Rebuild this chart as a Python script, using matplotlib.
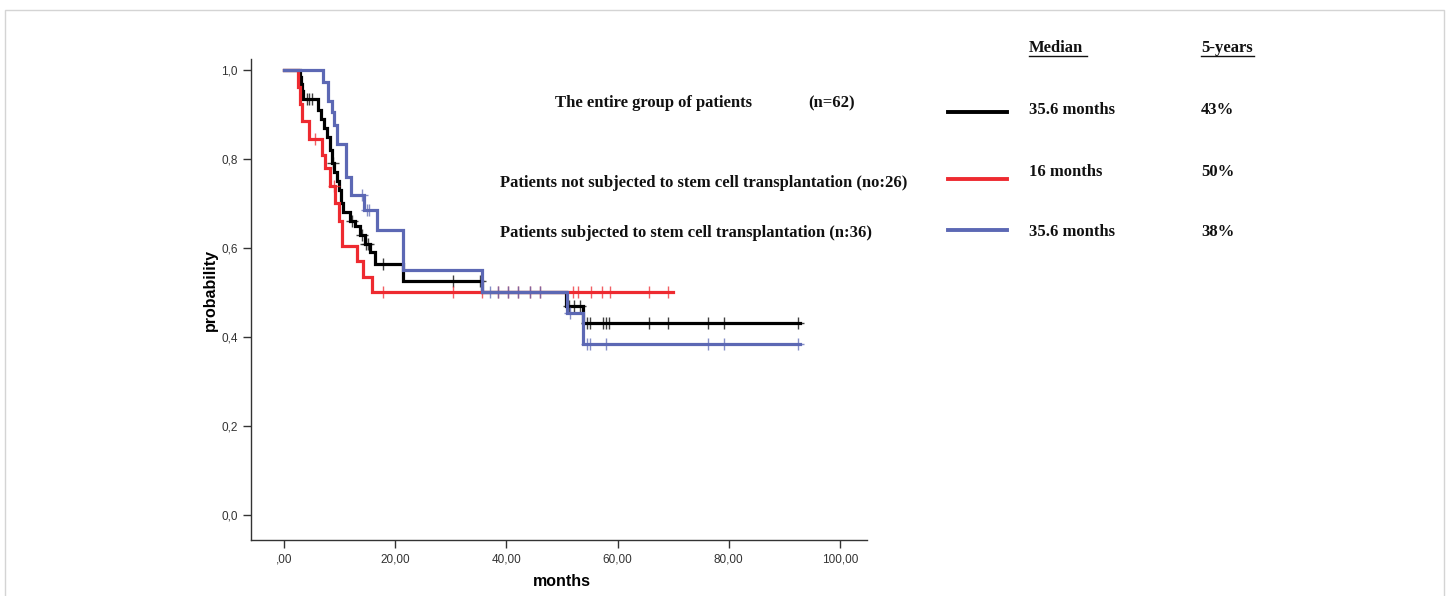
import numpy as np
import matplotlib
matplotlib.use("Agg")
import matplotlib.pyplot as plt
from matplotlib.lines import Line2D
from matplotlib.patches import Rectangle

# ---------------- data ----------------
# Entire group (n=62) - black
all_times = [0, 2.9, 3.1, 3.2, 3.4, 6.1, 6.7, 7.2, 7.7, 8.3, 8.6, 9.0, 9.5, 9.9, 10.3, 10.6,
             11.9, 12.8, 13.7, 14.6, 15.5, 16.4, 21.4, 35.6, 50.7, 53.8]
all_surv = [1.0, 0.984, 0.968, 0.952, 0.935, 0.91, 0.89, 0.87, 0.85, 0.82, 0.79, 0.77, 0.75, 0.73,
            0.70, 0.68, 0.66, 0.65, 0.63, 0.61, 0.59, 0.565, 0.525, 0.50, 0.47, 0.432]
all_end = 92.8
all_cens = [4.1, 4.5, 5.0, 8.8, 12.2, 14.0, 14.7, 15.1, 17.8, 30.4, 35.3, 51.3, 52.2, 53.2,
            54.5, 55.1, 57.4, 58.0, 58.5, 65.6, 69.1, 76.3, 79.1, 92.4]

# Not subjected to SCT (n=26) - red
no_times = [0, 2.5, 2.9, 3.2, 4.5, 6.8, 7.4, 8.3, 9.2, 9.9, 10.4, 13.2, 14.2, 15.8]
no_surv = [1.0, 0.962, 0.923, 0.885, 0.846, 0.81, 0.78, 0.74, 0.70, 0.66, 0.605, 0.57, 0.535, 0.50]
no_end = 70.0
no_cens = [5.6, 8.9, 17.8, 30.4, 35.6, 38.5, 40.3, 42.1, 44.2, 46.0, 51.9, 52.9, 55.2, 57.2,
           58.6, 65.6, 69.1]

# Subjected to SCT (n=36) - blue
yes_times = [0, 7.0, 7.9, 8.6, 9.0, 9.5, 11.2, 12.0, 14.4, 16.7, 21.4, 35.6, 50.9, 53.8]
yes_surv = [1.0, 0.972, 0.93, 0.905, 0.876, 0.833, 0.76, 0.72, 0.685, 0.64, 0.55, 0.50, 0.455, 0.385]
yes_end = 92.8
yes_cens = [14.0, 14.9, 15.2, 37.0, 38.5, 40.3, 42.1, 44.2, 46.0, 51.4, 54.5, 55.1, 57.9,
            76.3, 79.1, 92.4]

x_ticks = [0, 20, 40, 60, 80, 100]
x_ticklabels = [",00", "20,00", "40,00", "60,00", "80,00", "100,00"]
y_ticks = [0.0, 0.2, 0.4, 0.6, 0.8, 1.0]
y_ticklabels = ["0,0", "0,2", "0,4", "0,6", "0,8", "1,0"]

group_labels = ["The entire group of patients", "Patients not subjected to stem cell transplantation (no:26)",
                "Patients subjected to stem cell transplantation (n:36)"]
medians = ["35.6 months", "16 months", "35.6 months"]
five_year = ["43%", "50%", "38%"]

BLACK = "#000000"
RED = "#ee2a30"
BLUE = "#5c68b4"

W, H = 1450, 596
fig = plt.figure(figsize=(W / 100, H / 100), dpi=100)


def fx(px):
    return px / W


def fy(py):
    return 1 - py / H


# light frame around the figure (bottom edge lies outside the image)
fig.patches.append(Rectangle((fx(5), fy(620)), fx(1439), 610 / H, transform=fig.transFigure,
                             fill=False, edgecolor="#d4d4d4", linewidth=1.0))

ax = fig.add_axes([fx(251), fy(540), fx(616), 481 / H])
ax.set_xlim(-5.94, 104.86)
ax.set_ylim(-0.0562, 1.0247)


def surv_at(times, surv, t):
    idx = np.searchsorted(times, t, side="right") - 1
    return np.array(surv)[idx]


def draw(times, surv, end, cens, color, z):
    tt = list(times) + [end]
    ss = list(surv) + [surv[-1]]
    ax.step(tt, ss, where="post", color=color, lw=2.3, zorder=z, solid_joinstyle="miter")
    c = np.array(cens)
    ax.plot(c, surv_at(times, surv, c), linestyle="none", marker="+", markersize=8,
            markeredgewidth=1.0, color=color, alpha=0.75, zorder=z)


draw(all_times, all_surv, all_end, all_cens, BLACK, 3)
draw(no_times, no_surv, no_end, no_cens, RED, 4)
draw(yes_times, yes_surv, yes_end, yes_cens, BLUE, 5)

for s in ["top", "right"]:
    ax.spines[s].set_visible(False)
for s in ["left", "bottom"]:
    ax.spines[s].set_color("#333333")
    ax.spines[s].set_linewidth(1.0)

ax.set_xticks(x_ticks)
ax.set_xticklabels(x_ticklabels)
ax.set_yticks(y_ticks)
ax.set_yticklabels(y_ticklabels)
ax.tick_params(direction="out", length=6, width=1, color="#333333", labelsize=8.5,
               labelcolor="#333333")
for lab in ax.get_xticklabels() + ax.get_yticklabels():
    lab.set_family("Liberation Sans")

fig.text(fx(562), fy(582), "months", ha="center", va="center", fontsize=11.5,
         fontweight="bold", family="Liberation Sans")
fig.text(fx(210), fy(290), "probability", ha="center", va="center", fontsize=11.5,
         fontweight="bold", family="Liberation Sans", rotation=90)

serif = dict(family="Liberation Serif", fontweight="bold", fontsize=12, color="#111111")

fig.text(fx(555), fy(103), group_labels[0], ha="left", va="center", **serif)
fig.text(fx(808), fy(103), "(n=62)", ha="left", va="center", **serif)
fig.text(fx(500), fy(183), group_labels[1], ha="left", va="center", **serif)
fig.text(fx(500), fy(233), group_labels[2], ha="left", va="center", **serif)

# header with underline
fig.text(fx(1029), fy(48), "Median", ha="left", va="center", **serif)
fig.text(fx(1201), fy(48), "5-years", ha="left", va="center", **serif)
fig.add_artist(Line2D([fx(1029), fx(1087)], [fy(56), fy(56)], color="#111111", lw=1.0,
                      transform=fig.transFigure))
fig.add_artist(Line2D([fx(1201), fx(1254)], [fy(56), fy(56)], color="#111111", lw=1.0,
                      transform=fig.transFigure))

row_y = [110, 172, 232]
line_y = [112, 179, 230]
for col, ry, ly, med, fy5 in zip([BLACK, RED, BLUE], row_y, line_y, medians, five_year):
    fig.add_artist(Line2D([fx(948), fx(1007)], [fy(ly), fy(ly)], color=col, lw=2.8,
                          transform=fig.transFigure))
    fig.text(fx(1029), fy(ry), med, ha="left", va="center", **serif)
    fig.text(fx(1201), fy(ry), fy5, ha="left", va="center", **serif)

fig.savefig("out.png", dpi=100)
